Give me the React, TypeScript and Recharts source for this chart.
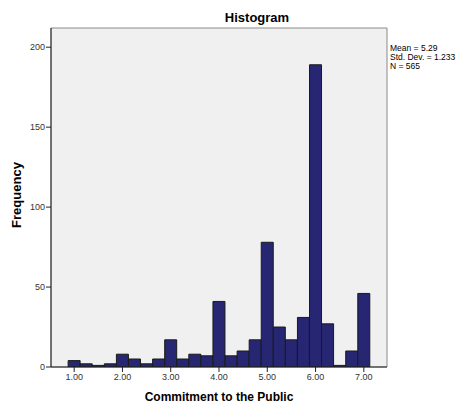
import { BarChart, Bar, XAxis, YAxis, ReferenceArea } from "recharts";

// bin centres (width 0.25) and counts
const binCenters = [
  1.0, 1.25, 1.5, 1.75, 2.0, 2.25, 2.5, 2.75, 3.0, 3.25, 3.5, 3.75, 4.0,
  4.25, 4.5, 4.75, 5.0, 5.25, 5.5, 5.75, 6.0, 6.25, 6.5, 6.75, 7.0,
];
const counts = [
  4, 2, 1, 2, 8, 5, 2, 5, 17, 5, 8, 7, 41, 7, 10, 17, 78, 25, 17, 31, 189,
  27, 1, 10, 46,
];
const xTicks = [1, 2, 3, 4, 5, 6, 7];
const yTicks = [0, 50, 100, 150, 200];
const stats = ["Mean = 5.29", "Std. Dev. = 1.233", "N = 565"];

const X_DOMAIN: [number, number] = [0.52, 7.48];
const Y_DOMAIN: [number, number] = [0, 212];

const data = binCenters.map((x, i) => ({ x, count: counts[i] }));

const FONT = "'Liberation Sans', Arial, sans-serif";

export default function App() {
  return (
    <div style={{ position: "absolute", left: 0, top: 0, width: 462, height: 408, background: "#fff" }}>
      <BarChart
        width={462}
        height={408}
        data={data}
        margin={{ top: 28, right: 75, left: 0, bottom: 0 }}
        barCategoryGap={0}
        barGap={0}
      >
        <ReferenceArea
          x1={X_DOMAIN[0]}
          x2={X_DOMAIN[1]}
          y1={Y_DOMAIN[0]}
          y2={Y_DOMAIN[1]}
          fill="#f0f0f0"
          fillOpacity={1}
          stroke="#8a8a8a"
          strokeWidth={1}
        />
        <XAxis
          dataKey="x"
          type="number"
          domain={X_DOMAIN}
          ticks={xTicks}
          allowDataOverflow
          height={41}
          tickFormatter={(v: number) => v.toFixed(2)}
          tick={{ fontSize: 9, fill: "#333", fontFamily: FONT }}
          tickSize={5}
          tickMargin={2}
          axisLine={{ stroke: "#222" }}
          tickLine={{ stroke: "#222" }}
        />
        <YAxis
          type="number"
          domain={Y_DOMAIN}
          ticks={yTicks}
          allowDataOverflow
          width={51}
          tick={{ fontSize: 9, fill: "#333", fontFamily: FONT }}
          tickSize={5}
          tickMargin={1}
          axisLine={{ stroke: "#222" }}
          tickLine={{ stroke: "#222" }}
        />
        <Bar
          dataKey="count"
          fill="#262672"
          stroke="#1a1a1a"
          strokeWidth={1}
          isAnimationActive={false}
        />
        <text x={257} y={22} textAnchor="middle" fontFamily={FONT} fontSize={13} fontWeight="bold" fill="#000">
          Histogram
        </text>
        <text
          x={21}
          y={195}
          textAnchor="middle"
          fontFamily={FONT}
          fontSize={13}
          fontWeight="bold"
          fill="#000"
          transform="rotate(-90 21 195)"
        >
          Frequency
        </text>
        <text x={219} y={401} textAnchor="middle" fontFamily={FONT} fontSize={12} fontWeight="bold" fill="#000">
          Commitment to the Public
        </text>
        {stats.map((s, i) => (
          <text key={s} x={390} y={51 + i * 9} fontFamily={FONT} fontSize={8.5} fill="#000">
            {s}
          </text>
        ))}
      </BarChart>
    </div>
  );
}
